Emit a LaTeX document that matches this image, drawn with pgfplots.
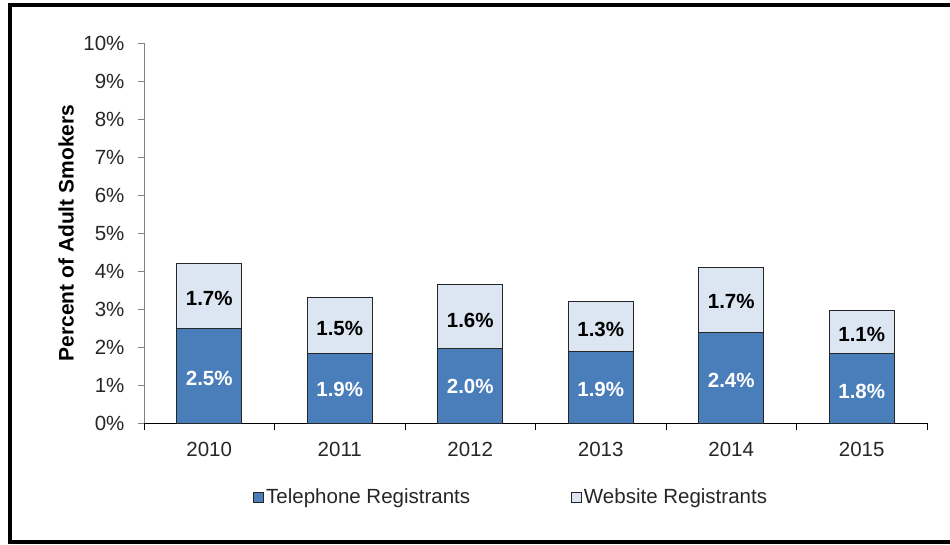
\documentclass[border=0pt]{standalone}
\usepackage{pgfplots}
\pgfplotsset{compat=1.18}
\usepackage{pgfplotstable}
\usepackage{fontspec}
\setmainfont{Liberation Sans}
\definecolor{telc}{HTML}{4A7EBB}
\definecolor{webc}{HTML}{DCE6F2}
\definecolor{edgec}{HTML}{262626}
\pgfplotstableread{
x tel web tl wl tly wly
0 2.48 1.72 2.5 1.7 1.18 3.29
1 1.83 1.48 1.9 1.5 0.87 2.50
2 1.97 1.68 2.0 1.6 0.96 2.71
3 1.88 1.32 1.9 1.3 0.89 2.47
4 2.37 1.71 2.4 1.7 1.13 3.19
5 1.82 1.13 1.8 1.1 0.82 2.32
}\data
\begin{document}
\begin{tikzpicture}
\useasboundingbox (-144bp,-122bp) rectangle (806bp,423bp);
\draw[line width=4bp] (806bp,418bp) -- (-134bp,418bp) -- (-134bp,-119bp) -- (806bp,-119bp);
\begin{axis}[at={(0,0)}, anchor=south west, scale only axis,
  width=783bp, height=380bp,
  xmin=-0.5, xmax=5.5, ymin=0, ymax=10,
  ybar stacked, bar width=0.5,
  axis x line*=bottom, axis y line*=left,
  x axis line style={black, line width=1bp},
  y axis line style={gray, line width=0.8bp},
  tick align=outside,
  xtick={0,...,5}, xticklabels={2010,2011,2012,2013,2014,2015},
  major x tick style={draw=none},
  minor xtick={-0.5,0.5,...,5.5},
  minor tick length=7bp,
  minor x tick style={black, line width=0.8bp},
  ytick={0,...,10},
  major tick length=6bp,
  y tick style={gray, line width=0.8bp},
  yticklabel={\pgfmathprintnumber{\tick}\%},
  /pgf/number format/assume math mode=true,
  ticklabel style={font=\fontsize{20.5bp}{24bp}\selectfont, text=black!85},
  yticklabel style={xshift=-10bp},
  xticklabel style={yshift=-10bp},
  every axis y label/.style={at={(axis description cs:-0.0996,0.5)}, rotate=90, anchor=center},
  ylabel={Percent of Adult Smokers},
  ylabel style={font=\bfseries\fontsize{21bp}{25bp}\selectfont},
  legend style={at={(0.469,-0.195)}, anchor=center, draw=none, fill=none,
    legend columns=2, font=\fontsize{20.5bp}{24bp}\selectfont, text=black!85,
    /tikz/every even column/.append style={column sep=99bp},
    legend cell align=left, inner sep=0pt},
  legend image code/.code={\draw[#1, line width=0.8bp] (0bp,-5bp) rectangle (10bp,5bp);},
]
\addplot[fill=telc, draw=edgec, line width=1bp] table[x=x, y=tel]{\data};
\addlegendentry{Telephone Registrants}
\addplot[fill=webc, draw=edgec, line width=1bp] table[x=x, y=web]{\data};
\addlegendentry{Website Registrants}
\end{axis}
\begin{axis}[at={(0,0)}, anchor=south west, scale only axis,
  width=783bp, height=380bp,
  xmin=-0.5, xmax=5.5, ymin=0, ymax=10, hide axis,
  /pgf/number format/assume math mode=true,
]
\addplot[draw=none, mark=none,
  nodes near coords={\pgfmathprintnumber[fixed,fixed zerofill,precision=1,assume math mode=true]{\pgfplotspointmeta}\%},
  every node near coord/.append style={anchor=center, text=white, font=\bfseries\fontsize{20.5bp}{24bp}\selectfont},
  point meta=\thisrow{tl}] table[x=x, y=tly]{\data};
\addplot[draw=none, mark=none,
  nodes near coords={\pgfmathprintnumber[fixed,fixed zerofill,precision=1,assume math mode=true]{\pgfplotspointmeta}\%},
  every node near coord/.append style={anchor=center, text=black, font=\bfseries\fontsize{20.5bp}{24bp}\selectfont},
  point meta=\thisrow{wl}] table[x=x, y=wly]{\data};
\end{axis}
\end{tikzpicture}
\end{document}
